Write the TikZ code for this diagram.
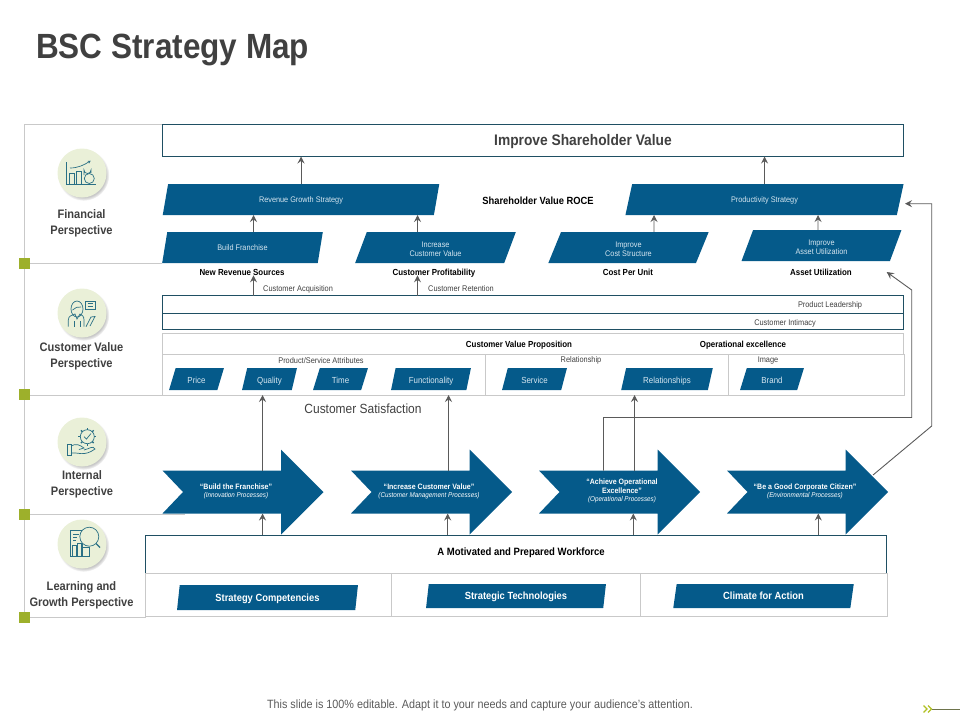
\documentclass[tikz,border=0pt]{standalone}
\usepackage{fontspec}
\setmainfont[FakeStretch=0.9]{Liberation Sans}
\usepackage{tikz}
\usetikzlibrary{positioning,shapes.geometric,shadows,arrows.meta}
\definecolor{barblue}{HTML}{055A8A}
\definecolor{boxline}{HTML}{1F4F63}
\definecolor{frameline}{HTML}{C9C9C9}
\definecolor{arrowgray}{HTML}{5A5A5A}
\definecolor{markgreen}{HTML}{9DB02B}
\definecolor{iconfill}{HTML}{EAF0D8}
\definecolor{iconline}{HTML}{2A7085}
\definecolor{headgray}{HTML}{404040}
\definecolor{barcap}{HTML}{D6E6F0}
\newcommand{\capstrut}{\rule{0pt}{8.5pt}}
\newcommand{\procarrow}[5]{%
  \fill[barblue] (#1,470.5) -- ++(118.5,0) -- ++(0,-21) -- ++(42.5,42.5) -- ++(-42.5,42.5) -- ++(0,-21) -- ++(-118.5,0) -- ++(20.5,-21.5) -- cycle;
  \node[proctext] (#2) at (#1+#3,491) {\proclabel};
  \coordinate (#2out) at (#1+#4,470.5);
  \coordinate (#2in) at (#1+#5,513.5);
}
\begin{document}
\begin{tikzpicture}[
    x=1pt, y=-1pt,
    bar/.style={trapezium, trapezium left angle=76, trapezium right angle=104, trapezium stretches=true,
                fill=barblue, inner sep=0pt, outer sep=0pt, align=center, text=barcap, font=\fontsize{8.1}{9}\selectfont},
    oneline/.style={text height=6.8pt, text depth=0pt},
    smallbar/.style={bar, trapezium left angle=71, trapezium right angle=109, minimum height=22pt,
                text height=8.3pt, text depth=0pt, font=\fontsize{8.8}{9}\selectfont},
    basebar/.style={bar, trapezium left angle=78, trapezium right angle=102, text=white,
                text height=7.5pt, text depth=0pt, font=\fontsize{10.4}{12}\selectfont\bfseries},
    outline/.style={rectangle, draw=boxline, line width=0.9pt, fill=white, inner sep=0pt, outer sep=0pt},
    grayframe/.style={rectangle, draw=frameline, line width=0.9pt, inner sep=0pt, outer sep=0pt},
    measure/.style={inner sep=0pt, text=black, text height=6.3pt, text depth=0pt, font=\fontsize{8.8}{10}\selectfont\bfseries},
    note/.style={inner sep=0pt, text=headgray, text height=5.9pt, text depth=0pt, font=\fontsize{8.2}{9}\selectfont},
    perspective/.style={inner sep=0pt, align=center, text=headgray, font=\fontsize{12.3}{16}\selectfont\bfseries},
    disc/.style={circle, fill=iconfill, minimum size=49pt, inner sep=0pt, circular drop shadow={shadow xshift=1.5pt, shadow yshift=-2pt, shadow scale=1.05, opacity=0.45}},
    marker/.style={rectangle, fill=markgreen, minimum size=11pt, inner sep=0pt},
    proctext/.style={inner sep=0pt, align=center, text=white, font=\fontsize{7.8}{9.2}\selectfont\bfseries},
    glyph/.style={draw=iconline, line width=0.7pt},
    arrow/.style={-{Stealth[length=7pt, width=7pt, inset=2.5pt]}, draw=arrowgray, line width=0.9pt}
]
\useasboundingbox (0,0) rectangle (960,720);

\node[inner sep=0pt, anchor=west, text=headgray, font=\fontsize{35}{40}\selectfont\bfseries] (title) at (36,50) {BSC Strategy Map};

\draw[frameline, line width=0.9pt] (162,124) -- (24.5,124) -- (24.5,617) -- (146,617);
\draw[frameline, line width=0.9pt] (24.5,263.5) -- (162,263.5);
\draw[frameline, line width=0.9pt] (24.5,395) -- (162,395);
\draw[frameline, line width=0.9pt] (24.5,514) -- (185,514);
\foreach \y/\n in {263.5/a, 394.5/b, 514/c, 617/d}
  \node[marker] (mark\n) at (24.5,\y) {};

\node[outline, minimum width=741pt, minimum height=32pt] (improve) at (533,140.5) {};
\node[inner sep=0pt, text=headgray, font=\fontsize{15.3}{17}\selectfont\bfseries] (improvetext) at (583,141.5) {Improve Shareholder Value};

\node[bar, oneline, minimum width=278pt, minimum height=31pt] (revenue) at (301,199.5) {Revenue Growth Strategy};
\node[bar, oneline, minimum width=279pt, minimum height=31pt] (productivity) at (764.5,199.5) {Productivity Strategy};
\node[inner sep=0pt, font=\fontsize{10.4}{12}\selectfont\bfseries] (roce) at (538,201) {Shareholder Value ROCE};

\node[bar, oneline, minimum width=161pt, minimum height=31pt] (franchise) at (242.5,247.5) {Build Franchise};
\node[bar, minimum width=161pt, minimum height=31pt] (increase) at (435.5,247.5) {\capstrut Increase\\Customer Value};
\node[bar, minimum width=161pt, minimum height=31pt] (cost) at (628.5,247.5) {\capstrut Improve\\Cost Structure};
\node[bar, minimum width=161pt, minimum height=31pt] (asset) at (821.5,245.5) {\capstrut Improve\\Asset Utilization};

\node[measure] (sources) at (242,272) {New Revenue Sources};
\node[measure] (profit) at (434,272) {Customer Profitability};
\node[measure] (perunit) at (628,272) {Cost Per Unit};
\node[measure] (assetuse) at (821,272) {Asset Utilization};

\node[note, anchor=west] (acquisition) at (263,289) {Customer Acquisition};
\node[note, anchor=west] (retention) at (428,289) {Customer Retention};

\node[outline, minimum width=741pt, minimum height=18pt] (leadership) at (533,304.5) {};
\node[outline, minimum width=741pt, minimum height=16.5pt] (intimacy) at (533,321.5) {};
\node[note] (leadtext) at (830,305) {Product Leadership};
\node[note] (intimtext) at (785,322.5) {Customer Intimacy};

\node[grayframe, minimum width=741pt, minimum height=21pt] (proposition) at (533,343.5) {};
\node[measure] (proptext) at (519,344) {Customer Value Proposition};
\node[measure] (opextext) at (743,344) {Operational excellence};

\node[grayframe, minimum width=742pt, minimum height=41pt] (attributes) at (533.5,374.5) {};
\draw[frameline, line width=0.9pt] ([xshift=-48pt]attributes.north) -- ([xshift=-48pt]attributes.south);
\draw[frameline, line width=0.9pt] ([xshift=194.5pt]attributes.north) -- ([xshift=194.5pt]attributes.south);
\node[note] (attrtext) at (321,361) {Product/Service Attributes};
\node[note] (reltext) at (581,360) {Relationship};
\node[note] (imgtext) at (768,360) {Image};

\node[smallbar, minimum width=55pt] (price) at (196.5,379) {Price};
\node[smallbar, minimum width=55pt] (quality) at (269.5,379) {Quality};
\node[smallbar, minimum width=55pt] (timebar) at (340.5,379) {Time};
\node[smallbar, minimum width=80pt] (function) at (431,379) {Functionality};
\node[smallbar, minimum width=65pt] (service) at (534.5,379) {Service};
\node[smallbar, minimum width=92pt] (relations) at (667,379) {Relationships};
\node[smallbar, minimum width=64pt] (brand) at (772,379) {Brand};

\node[inner sep=0pt, text=headgray, font=\fontsize{13.3}{15}\selectfont] (satisfaction) at (363,409) {Customer Satisfaction};

\newcommand{\proclabel}{``Build the Franchise''\\[-1pt]{\mdseries\itshape\fontsize{7}{8}\selectfont (Innovation Processes)}}
\procarrow{162.5}{build}{73.5}{100}{100}
\renewcommand{\proclabel}{``Increase Customer Value''\\[-1pt]{\mdseries\itshape\fontsize{7}{8}\selectfont (Customer Management  Processes)}}
\procarrow{351}{customer}{78}{97.5}{96.7}
\renewcommand{\proclabel}{``Achieve Operational\\Excellence''\\[-1pt]{\mdseries\itshape\fontsize{7}{8}\selectfont (Operational Processes)}}
\procarrow{539}{operate}{83}{95.5}{94.3}
\renewcommand{\proclabel}{``Be a Good Corporate Citizen''\\[-1pt]{\mdseries\itshape\fontsize{7}{8}\selectfont (Environmental Processes)}}
\procarrow{727}{citizen}{78}{91.3}{91.3}

\node[outline, minimum width=741pt, minimum height=38.5pt] (workforce) at (516.2,554.2) {};
\node[inner sep=0pt, font=\fontsize{10.6}{12}\selectfont\bfseries] (worktext) at (521,553) {A Motivated and Prepared Workforce};
\node[grayframe, minimum width=742pt, minimum height=43pt] (basebox) at (516.5,595.2) {};
\draw[frameline, line width=0.9pt] ([xshift=-124.8pt]basebox.north) -- ([xshift=-124.8pt]basebox.south);
\draw[frameline, line width=0.9pt] ([xshift=123.5pt]basebox.north) -- ([xshift=123.5pt]basebox.south);
\node[basebar, minimum width=181pt, minimum height=25pt] (competency) at (267.5,597.5) {Strategy Competencies};
\node[basebar, minimum width=180pt, minimum height=24pt] (technology) at (516,596) {Strategic Technologies};
\node[basebar, minimum width=181pt, minimum height=24pt] (climate) at (763.5,596) {Climate for Action};

\draw[arrow] (revenue.north) -- (revenue.north |- improve.south);
\draw[arrow] (productivity.north) -- (productivity.north |- improve.south);
\draw[arrow] ([xshift=11pt]franchise.north) -- ([xshift=-47.5pt]revenue.south);
\draw[arrow] ([xshift=-18pt]increase.north) -- ([xshift=116.5pt]revenue.south);
\draw[arrow] ([xshift=25.5pt]cost.north) -- ([xshift=-110.5pt]productivity.south);
\draw[arrow] ([xshift=-3.5pt]asset.north) -- ([xshift=53.5pt]productivity.south);
\draw[arrow] ([xshift=-279.5pt]leadership.north) -- ([xshift=11.5pt]sources.south);
\draw[arrow] ([xshift=-115.5pt]leadership.north) -- ([xshift=-16.5pt]profit.south);

\draw[arrow] (buildout) -- (attributes.south -| buildout);
\draw[arrow] (customerout) -- (attributes.south -| customerout);
\draw[arrow] (operateout) -- (attributes.south -| operateout);
\draw[arrow] (workforce.north -| buildin) -- (buildin);
\draw[arrow] (workforce.north -| customerin) -- (customerin);
\draw[arrow] (workforce.north -| operatein) -- (operatein);
\draw[arrow] (workforce.north -| citizenin) -- (citizenin);

\coordinate (loopa) at (603.5,470.5);
\coordinate (loopb) at (886.7,272);
\coordinate (loopc) at (873,475);
\coordinate (loopd) at (905,203.7);
\draw[arrow] (loopa) |- (911.7,417.5) -- (911.7,290) -- (loopb);
\draw[arrow] (loopc) -- (931.7,426) |- (loopd);

\node[disc] (discfin) at (82,173) {};
\node[disc] (disccust) at (82,313) {};
\node[disc] (discint) at (82,442) {};
\node[disc] (disclearn) at (82,544) {};

\draw[glyph] (66.7,162) -- (66.7,184) -- (96,184);
\draw[glyph] (69.5,184) -- (69.5,173) -- (74,173) -- (74,184);
\draw[glyph] (76.7,184) -- (76.7,171) -- (81.5,171) -- (81.5,184);
\draw[glyph] (84,175) -- (84,170) arc[start angle=180, end angle=360, x radius=3.5, y radius=-3.5] -- (91,173);
\draw[glyph] (89.3,178.5) circle[radius=5];
\draw[glyph, -{Stealth[length=3pt, width=3pt]}] (70,168) .. controls (78,168) and (84,165) .. (90.7,160.7);

\draw[glyph] (77,309) ellipse[x radius=6, y radius=8];
\draw[glyph] (72.5,310) .. controls (75,308) and (78,306) .. (81,307);
\draw[glyph] (85.5,301) rectangle (95,309);
\draw[glyph] (87.5,303.5) -- (93,303.5) (87.5,306) -- (93,306);
\draw[glyph] (68.3,326.7) -- (68.3,320) .. controls (68.3,316) and (72,315) .. (75,314) -- (77,319) -- (80,314) .. controls (82,315) and (84,316) .. (84,320) -- (84,326.7);
\draw[glyph] (74,326.7) -- (74,321) (80,326.7) -- (80,321);
\draw[glyph] (86,326.7) -- (91,317) -- (95,316.5) -- (90,326);

\draw[glyph] (87.3,436.7) circle[radius=7];
\foreach \a in {0,45,...,315}
  \draw[glyph, line width=1.3pt] (87.3,436.7) ++(\a:7) -- ++(\a:2);
\draw[glyph] (84,436.5) -- (86.5,439) -- (91,433.5);
\draw[glyph] (67,444) rectangle (71,455);
\draw[glyph] (71,446) .. controls (76,443) and (80,445) .. (84,448) -- (79,449.5);
\draw[glyph] (71,453) .. controls (78,452) and (84,457) .. (95,449) .. controls (93,445) and (89,449) .. (84,450);

\draw[glyph] (70.7,530) rectangle (82,556);
\draw[glyph] (73,534) -- (79,534) (73,537) -- (77,537) (73,540) -- (76,540);
\draw[glyph] (72.5,556) -- (72.5,545) -- (76,545) -- (76,556) (77,556) -- (77,543) -- (81,543) -- (81,556);
\draw[glyph, fill=iconfill] (82,556) -- (89,556) -- (89,547) -- (82,547) -- cycle;
\draw[glyph, fill=iconfill] (89.3,536.7) circle[radius=9.5];
\draw[glyph, line width=1.4pt] (96,543.5) -- (100,547.5);

\node[perspective, below=12pt of discfin, xshift=-0.5pt] (labelfin) {Financial\\Perspective};
\node[perspective, below=5pt of disccust, xshift=-0.5pt] (labelcust) {Customer Value\\Perspective};
\node[perspective, below=4pt of discint] (labelint) {Internal\\Perspective};
\node[perspective, below=13pt of disclearn, xshift=-0.5pt] (labellearn) {Learning and\\Growth Perspective};

\node[inner sep=0pt, text=arrowgray, font=\fontsize{12}{14}\selectfont] (footer) at (480,705) {This slide is 100\% editable. Adapt it to your needs and capture your audience's attention.};
\coordinate (footend) at (960,709);
\coordinate (footstart) at (932,709);
\draw[arrowgray!70!markgreen, line width=0.8pt] (footstart) -- (footend);
\draw[markgreen!80!yellow, line width=1.3pt] (923.5,705.5) -- (927,709) -- (923.5,712.5) (928,705.5) -- (931.5,709) -- (928,712.5);
\end{tikzpicture}
\end{document}
